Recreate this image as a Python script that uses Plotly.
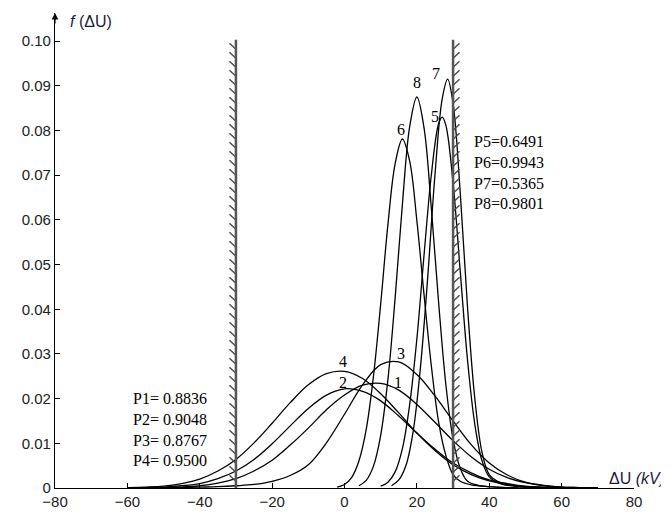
import plotly.graph_objects as go

# ---- data ----
x_broad = [-60, -55, -50, -45, -40, -35, -30, -25, -20, -15, -10, -5, 0, 5, 10, 15, 20, 25, 30, 35, 40, 45, 50, 55, 60, 65, 70]
y1 = [0.0000, 0.00003, 0.0001, 0.0002, 0.0005, 0.0011, 0.0021, 0.0038, 0.0062, 0.0096, 0.0134, 0.0175, 0.0208, 0.0230,
      0.0234, 0.0219, 0.0187, 0.0147, 0.0106, 0.0070, 0.0042, 0.0023, 0.0012, 0.0005, 0.0002, 0.0001, 0.0000]
y2 = [0.0000, 0.0001, 0.0002, 0.0005, 0.0010, 0.0021, 0.0038, 0.0064, 0.0099, 0.0139, 0.0178, 0.0208, 0.0222, 0.0216,
      0.0195, 0.0161, 0.0123, 0.0087, 0.0056, 0.0034, 0.0018, 0.0010, 0.0004, 0.0002, 0.0001, 0.0000, 0.0000]
y3 = [0.0000, 0.0000, 0.0000, 0.0001, 0.0002, 0.0003, 0.0005, 0.0008, 0.0015, 0.0028, 0.0052, 0.0101, 0.0165, 0.0231,
      0.0276, 0.0282, 0.0254, 0.0206, 0.0150, 0.0097, 0.0056, 0.0029, 0.0013, 0.0006, 0.0002, 0.0001, 0.0000]
y4 = [0.0001, 0.0002, 0.0004, 0.0010, 0.0020, 0.0038, 0.0064, 0.0101, 0.0145, 0.0191, 0.0231, 0.0256, 0.0261, 0.0245,
      0.0211, 0.0168, 0.0123, 0.0084, 0.0052, 0.0030, 0.0016, 0.0008, 0.0003, 0.0001, 0.0000, 0.0000, 0.0000]

x5 = [10, 12, 14, 16, 18, 20, 22, 24, 26, 27, 28, 30, 32, 34, 36, 38, 40, 43, 47, 52, 57]
y5 = [0.0004, 0.0013, 0.0036, 0.0088, 0.0186, 0.0334, 0.0523, 0.0701, 0.0815, 0.0830, 0.0812, 0.0683, 0.0483, 0.0286,
      0.0143, 0.0061, 0.0025, 0.0010, 0.0004, 0.0001, 0.0000]
x6 = [-2, 0, 2, 4, 6, 8, 10, 12, 14, 16, 18, 20, 22, 24, 26, 28, 30, 32, 35, 40, 45, 50]
y6 = [0.0002, 0.0008, 0.0024, 0.0061, 0.0131, 0.0250, 0.0412, 0.0590, 0.0726, 0.0781, 0.0732, 0.0598, 0.0431, 0.0273,
      0.0148, 0.0073, 0.0030, 0.0015, 0.0007, 0.0003, 0.0001, 0.0000]
x7 = [13, 15, 17, 19, 21, 23, 25, 27, 28.5, 30, 32, 34, 36, 38, 40, 43, 47, 52, 58]
y7 = [0.0005, 0.0018, 0.0051, 0.0128, 0.0271, 0.0472, 0.0701, 0.0871, 0.0915, 0.0861, 0.0659, 0.0404, 0.0201, 0.0080,
      0.0030, 0.0012, 0.0005, 0.0002, 0.0000]
x8 = [4, 6, 8, 10, 12, 14, 16, 18, 20, 22, 24, 26, 28, 30, 32, 34, 37, 42, 48]
y8 = [0.0005, 0.0017, 0.0049, 0.0118, 0.0243, 0.0426, 0.0635, 0.0808, 0.0875, 0.0805, 0.0626, 0.0416, 0.0232, 0.0109,
      0.0044, 0.0015, 0.0006, 0.0002, 0.0000]

curve_names = ["1", "2", "3", "4", "5", "6", "7", "8"]
label_x = [14.7, -0.5, 15.7, -0.5, 24.9, 15.5, 25.4, 19.9]
label_y = [0.0235, 0.0237, 0.0302, 0.0284, 0.0832, 0.0803, 0.0928, 0.0908]

limits = [-30, 30]
limit_top = 0.1003

p_left = ["P1= 0.8836", "P2= 0.9048", "P3= 0.8767", "P4= 0.9500"]
p_right = ["P5=0.6491", "P6=0.9943", "P7=0.5365", "P8=0.9801"]

x_ticks = [-80, -60, -40, -20, 0, 20, 40, 60, 80]
y_ticks = [0, 0.01, 0.02, 0.03, 0.04, 0.05, 0.06, 0.07, 0.08, 0.09, 0.10]
y_ticktext = ["0", "0.01", "0.02", "0.03", "0.04", "0.05", "0.06", "0.07", "0.08", "0.09", "0.10"]

# ---- figure ----
fig = go.Figure()

series = [(x_broad, y1), (x_broad, y2), (x_broad, y3), (x_broad, y4), (x5, y5), (x6, y6), (x7, y7), (x8, y8)]
for name, (xs, ys) in zip(curve_names, series):
    fig.add_trace(go.Scatter(x=xs, y=ys, mode="lines", name=name,
                             line=dict(color="black", width=1.3, shape="spline", smoothing=1.0),
                             hoverinfo="skip", showlegend=False))

# limit bars with hatching (decoration)
Y_TOP = 0.1063
px_per_x = 579 / 160.0
px_per_y = 475 / Y_TOP
for i, lx in enumerate(limits):
    fig.add_shape(type="line", x0=lx, x1=lx, y0=0, y1=limit_top,
                  line=dict(color="#555555", width=2.5), layer="above")
    side = -1 if i == 0 else 1
    hx, hy = [], []
    yy = 0.0015
    while yy < limit_top - 0.0005:
        hx += [lx, lx + side * 6.5 / px_per_x, None]
        hy += [yy, yy + 6 / px_per_y, None]
        yy += 9 / px_per_y
    fig.add_trace(go.Scatter(x=hx, y=hy, mode="lines", line=dict(color="#4a4a4a", width=1.4),
                             hoverinfo="skip", showlegend=False))

serif = "Liberation Serif, Times New Roman, serif"
sans = "Liberation Sans, Arial, sans-serif"

for name, lx, ly in zip(curve_names, label_x, label_y):
    fig.add_annotation(x=lx, y=ly, text=name, showarrow=False, yanchor="middle", xanchor="center",
                       font=dict(family=serif, size=16, color="black"))

fig.add_annotation(x=-48.3, y=0.0132, xref="x", yref="y", text="<br>".join(p_left), showarrow=False,
                   xanchor="center", yanchor="middle", align="left",
                   font=dict(family=serif, size=16, color="black"))
fig.add_annotation(x=35.1, y=0.0705, xref="x", yref="y", text="<br>".join(p_right), showarrow=False,
                   xanchor="left", yanchor="middle", align="left",
                   font=dict(family=serif, size=16, color="black"))

# axis titles
fig.add_annotation(x=-76.5, y=0.1043, xref="x", yref="y", text="<i>f</i> (ΔU)", showarrow=False,
                   xanchor="left", yanchor="middle", font=dict(family=sans, size=16, color="#1c1c40"))
fig.add_annotation(x=1.0, y=0.0022, xref="paper", yref="y", text="ΔU <i>(kV)</i>", showarrow=False,
                   xanchor="right", yanchor="middle", xshift=33, font=dict(family=sans, size=16, color="#1c1c40"))

# y-axis arrow
fig.add_annotation(x=-80, y=Y_TOP, xref="x", yref="y", ax=0, ay=12, showarrow=True,
                   arrowhead=2, arrowsize=1.1, arrowwidth=1.2, arrowcolor="black", text="")

# the page adds an 8px body margin, so the figure is 8px smaller and margins shifted
fig.update_layout(
    width=661, height=504,
    margin=dict(l=47, r=35, t=5, b=24, autoexpand=False),
    paper_bgcolor="white", plot_bgcolor="white",
    showlegend=False,
    xaxis=dict(range=[-80, 80], tickvals=x_ticks, ticks="inside", ticklen=5, tickcolor="black",
               showline=True, linecolor="black", linewidth=1.2, showgrid=False, zeroline=False,
               automargin=False, tickfont=dict(family=sans, size=15, color="#222222")),
    yaxis=dict(range=[0, Y_TOP], tickvals=y_ticks, ticktext=y_ticktext, ticks="inside", ticklen=5,
               tickcolor="black", showline=True, linecolor="black", linewidth=1.2, showgrid=False,
               zeroline=False, automargin=False, tickfont=dict(family=sans, size=15, color="#222222")),
)

fig.write_html("out.html")
